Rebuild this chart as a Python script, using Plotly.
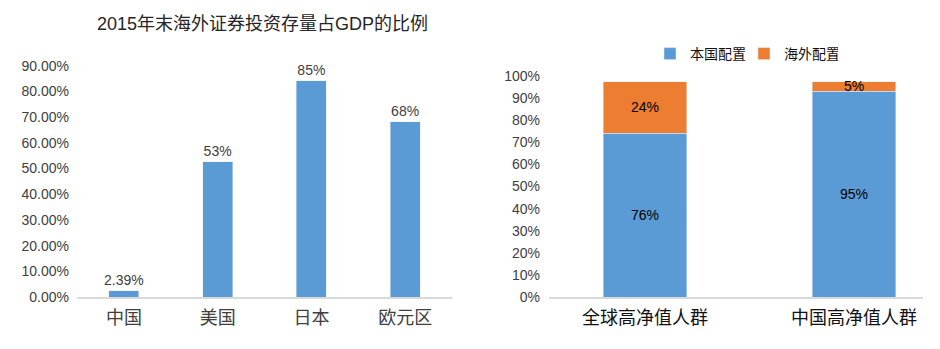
import plotly.graph_objects as go

# Left chart data
regions = ["中国", "美国", "日本", "欧元区"]
ratio_values = [0.0239, 0.527, 0.842, 0.682]
ratio_labels = ["2.39%", "53%", "85%", "68%"]

# Right chart data (drawn heights as in the picture, labels as shown)
groups = ["全球高净值人群", "中国高净值人群"]
domestic_values = [0.74, 0.93]
overseas_values = [0.235, 0.045]
domestic_labels = ["76%", "95%"]
overseas_labels = ["24%", "5%"]

BLUE = "#5B9BD5"
ORANGE = "#ED7D31"
FONT = "Liberation Sans, Arial, Noto Sans CJK SC"
TXT = "#404040"

W, H = 940, 349
def px(x):
    return x / W
def py(y):
    return (H - y) / H

fig = go.Figure()

fig.add_trace(go.Bar(
    x=regions, y=ratio_values, text=ratio_labels, textposition="outside",
    textfont=dict(size=14, color=TXT, family=FONT), marker_color=BLUE,
    width=0.32, cliponaxis=False, showlegend=False, xaxis="x", yaxis="y",
    constraintext="none",
))

fig.add_trace(go.Bar(
    x=groups, y=domestic_values, text=domestic_labels, textposition="inside",
    insidetextanchor="middle", textfont=dict(size=14, color="#000000", family=FONT),
    marker_color=BLUE, width=0.40, name="本国配置", xaxis="x2", yaxis="y2",
    constraintext="none",
))
fig.add_trace(go.Bar(
    x=groups, y=overseas_values, text=overseas_labels, textposition="inside",
    insidetextanchor="middle", textfont=dict(size=14, color="#000000", family=FONT),
    marker_color=ORANGE, width=0.40, name="海外配置", xaxis="x2", yaxis="y2",
    constraintext="none",
))

fig.update_layout(
    width=W, height=H,
    margin=dict(l=0, r=0, t=0, b=0, autoexpand=False),
    paper_bgcolor="white", plot_bgcolor="white",
    barmode="stack",
    font=dict(family=FONT, color=TXT),
    xaxis=dict(domain=[px(77), px(452)], range=[-0.5, 3.5], showline=True,
               linecolor="#D9D9D9", linewidth=2, ticks="", showgrid=False,
               tickfont=dict(size=18, color=TXT), ticklabelstandoff=3,
               anchor="y"),
    yaxis=dict(domain=[py(297), py(65.7)], range=[0, 0.9], dtick=0.1,
               tickformat=".2%", showgrid=False, zeroline=False,
               tickfont=dict(size=14, color=TXT), anchor="x", showline=False,
               ticklabelstandoff=7),
    xaxis2=dict(domain=[px(549), px(923)], range=[-0.459, 1.33], showline=True,
                linecolor="#D9D9D9", linewidth=2, ticks="", showgrid=False,
                tickfont=dict(size=18, color="#111111"), ticklabelstandoff=3,
                anchor="y2"),
    yaxis2=dict(domain=[py(297), py(76)], range=[0, 1.0], dtick=0.1,
                tickformat=".0%", showgrid=False, zeroline=False,
                tickfont=dict(size=14, color=TXT), anchor="x2", showline=False,
                ticklabelstandoff=8),
    legend=dict(orientation="h", x=px(650), y=py(54), xanchor="left",
                yanchor="middle", font=dict(size=14, color="#111111"),
                bgcolor="rgba(0,0,0,0)", traceorder="normal",
                entrywidth=49, entrywidthmode="pixels"),
    annotations=[dict(text="2015年末海外证券投资存量占GDP的比例", x=px(262), y=py(24),
                      xref="paper", yref="paper", showarrow=False,
                      xanchor="center", yanchor="middle",
                      font=dict(size=18, color="#262626"))],
)

fig.write_html("out.html")
